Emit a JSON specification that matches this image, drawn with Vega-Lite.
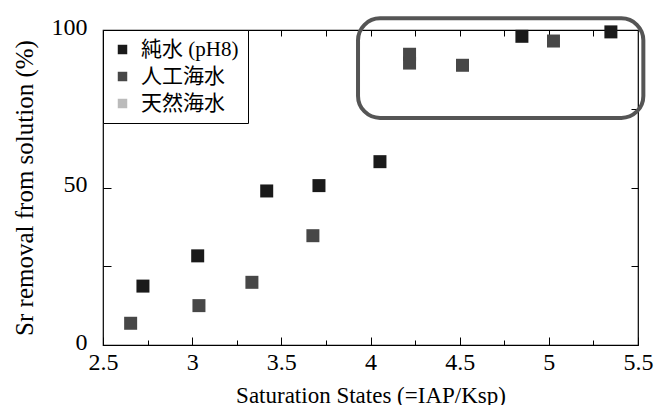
{
  "$schema": "https://vega.github.io/schema/vega-lite/v6.json",
  "width": 535,
  "height": 315,
  "autosize": "none",
  "padding": {"left": 103, "top": 30, "right": 29, "bottom": 60},
  "config": {
    "view": {"stroke": "#000", "strokeWidth": 1.2},
    "font": "Liberation Serif",
    "axis": {"grid": false, "domain": false, "tickColor": "#000", "tickWidth": 1, "labelColor": "#000", "titleColor": "#000", "labelFont": "Liberation Serif", "titleFont": "Liberation Serif", "labelFontSize": 24, "titleFontSize": 23, "titleFontWeight": "normal"}
  },
  "datasets": {
    "pts": [
      {"s": 2.724, "r": 18.7, "t": "純水 (pH8)"},
      {"s": 3.031, "r": 28.3, "t": "純水 (pH8)"},
      {"s": 3.418, "r": 48.9, "t": "純水 (pH8)"},
      {"s": 3.711, "r": 50.6, "t": "純水 (pH8)"},
      {"s": 4.053, "r": 58.2, "t": "純水 (pH8)"},
      {"s": 4.849, "r": 98.0, "t": "純水 (pH8)"},
      {"s": 5.348, "r": 99.4, "t": "純水 (pH8)"},
      {"s": 2.655, "r": 6.9, "t": "人工海水"},
      {"s": 3.038, "r": 12.5, "t": "人工海水"},
      {"s": 3.335, "r": 19.9, "t": "人工海水"},
      {"s": 3.677, "r": 34.7, "t": "人工海水"},
      {"s": 4.219, "r": 92.3, "t": "人工海水"},
      {"s": 4.219, "r": 89.5, "t": "人工海水"},
      {"s": 4.516, "r": 88.8, "t": "人工海水"},
      {"s": 5.026, "r": 96.5, "t": "人工海水"}
    ],
    "box": [{"x1": 3.93, "x2": 5.53, "y1": 72.1, "y2": 103.7}]
  },
  "resolve": {"axis": {"x": "independent", "y": "independent"}},
  "layer": [
    {
      "data": {"name": "pts"},
      "mark": {"type": "square", "opacity": 0},
      "encoding": {
        "x": {"field": "s", "type": "quantitative", "scale": {"domain": [2.5, 5.5], "nice": false, "zero": false},
          "axis": {"orient": "top", "values": [2.75, 3, 3.25, 3.5, 3.75, 4, 4.25, 4.5, 4.75, 5, 5.25], "offset": -6, "tickSize": 6, "labels": false, "title": null}},
        "y": {"field": "r", "type": "quantitative", "scale": {"domain": [0, 100], "nice": false},
          "axis": {"orient": "right", "values": [25, 50, 75], "offset": -7, "tickSize": 7, "labels": false, "title": null}}
      }
    },
    {
      "data": {"name": "pts"},
      "mark": {"type": "square", "opacity": 0},
      "encoding": {
        "x": {"field": "s", "type": "quantitative",
          "axis": {"orient": "bottom", "values": [2.75, 3.25, 3.75, 4.25, 4.75, 5.25], "offset": -5, "tickSize": 5, "labels": false, "title": null}},
        "y": {"field": "r", "type": "quantitative",
          "axis": {"orient": "left", "values": [25, 75], "offset": -8, "tickSize": 8, "labels": false, "title": null}}
      }
    },
    {
      "data": {"name": "box"},
      "mark": {"type": "rect", "fill": null, "filled": false, "stroke": "#555", "strokeWidth": 4, "cornerRadius": 22, "clip": false},
      "encoding": {
        "x": {"field": "x1", "type": "quantitative", "axis": null},
        "x2": {"field": "x2"},
        "y": {"field": "y1", "type": "quantitative", "axis": null},
        "y2": {"field": "y2"}
      }
    },
    {
      "data": {"name": "pts"},
      "mark": {"type": "square", "size": 169, "opacity": 1},
      "encoding": {
        "x": {"field": "s", "type": "quantitative",
          "axis": {"orient": "bottom", "values": [2.5, 3, 3.5, 4, 4.5, 5, 5.5], "format": "~g", "offset": -8, "tickSize": 8, "labelPadding": 5, "labelFont": "Liberation Serif", "labelFontSize": 24, "title": "Saturation States (=IAP/Ksp)", "titlePadding": 10, "labelFlush": false}},
        "y": {"field": "r", "type": "quantitative",
          "axis": {"orient": "left", "values": [0, 50, 100], "offset": -8, "tickSize": 8, "labelPadding": 16, "labelFont": "Liberation Serif", "labelFontSize": 24, "labelBaseline": "alphabetic", "labelOffset": 4, "title": "Sr removal from solution (%)", "titlePadding": 14, "titleFontSize": 25}},
        "color": {"field": "t", "type": "nominal",
          "scale": {"domain": ["純水 (pH8)", "人工海水", "天然海水"], "range": ["#1a1a1a", "#474747", "#bbbbbb"]},
          "legend": {"orient": "top-left", "offset": 0, "title": null, "strokeColor": "#000", "fillColor": "#fff", "padding": 9, "labelFont": "Liberation Serif, Noto Sans CJK JP", "labelFontSize": 21, "labelColor": "#000", "symbolType": "square", "symbolSize": 90, "symbolOpacity": 1, "rowPadding": 5, "labelOffset": 8, "symbolStrokeWidth": 0}}
      }
    }
  ]
}
